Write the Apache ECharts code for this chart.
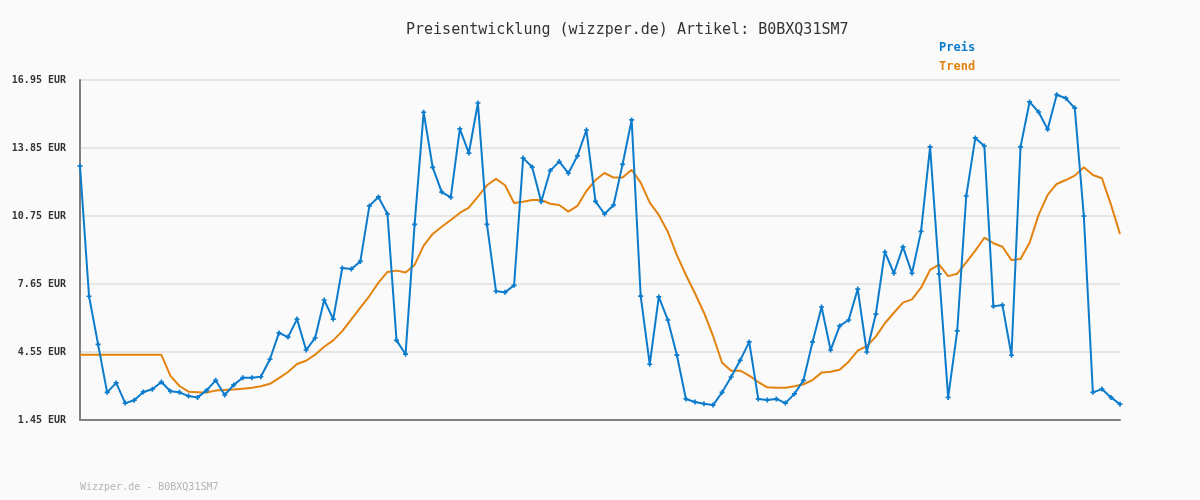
<!DOCTYPE html>
<html>
<head>
<meta charset="UTF-8">
<title>Preisentwicklung</title>
<style>
	html,body{margin:0;padding:0;background:#fafafa;}
	#chart{width:1200px;height:500px;}
</style>
</head>
<body>
<div id="chart"></div>
<script src="https://cdn.jsdelivr.net/npm/echarts@6/dist/echarts.min.js"></script>
<script>
// Preisverlauf
var preis = [13.02,7.09,4.90,2.71,3.14,2.22,2.35,2.73,2.85,3.18,
	2.76,2.71,2.54,2.48,2.80,3.26,2.59,3.05,3.38,3.38,
	3.42,4.22,5.42,5.23,6.05,4.64,5.19,6.92,6.05,8.38,
	8.33,8.68,11.21,11.62,10.84,5.08,4.45,10.37,15.48,12.97,
	11.84,11.60,14.72,13.62,15.90,10.37,7.32,7.27,7.59,13.39,
	12.98,11.40,12.82,13.23,12.70,13.49,14.67,11.42,10.84,11.25,
	13.11,15.13,7.10,3.99,7.06,6.01,4.41,2.41,2.27,2.19,
	2.13,2.71,3.41,4.17,5.01,2.41,2.36,2.41,2.22,2.64,
	3.26,5.01,6.60,4.64,5.74,6.01,7.42,4.55,6.28,9.11,
	8.14,9.34,8.14,10.05,13.90,8.11,2.48,5.51,11.66,14.31,
	13.94,6.63,6.69,4.40,13.90,15.95,15.49,14.70,16.28,16.12,
	15.67,10.75,2.71,2.86,2.48,2.17];
var trend = [4.42,4.42,4.42,4.42,4.42,4.42,4.42,4.42,4.42,4.42,
	3.46,3.00,2.74,2.72,2.70,2.79,2.82,2.84,2.88,2.92,
	2.99,3.10,3.36,3.64,4.00,4.15,4.43,4.79,5.08,5.50,
	6.04,6.57,7.10,7.71,8.20,8.26,8.17,8.52,9.40,9.93,
	10.26,10.57,10.89,11.13,11.63,12.15,12.44,12.15,11.34,11.40,
	11.48,11.48,11.31,11.25,10.95,11.21,11.89,12.39,12.71,12.50,
	12.50,12.86,12.27,11.36,10.80,10.03,8.97,8.06,7.23,6.34,
	5.28,4.06,3.70,3.70,3.47,3.18,2.94,2.92,2.92,2.99,
	3.08,3.27,3.61,3.65,3.74,4.11,4.61,4.82,5.25,5.86,
	6.34,6.80,6.95,7.48,8.29,8.53,8.01,8.12,8.64,9.17,
	9.76,9.51,9.35,8.74,8.79,9.53,10.80,11.71,12.21,12.39,
	12.59,12.97,12.62,12.47,11.27,9.93];
var yMin = 1.45, yMax = 16.95, yStep = 3.1;

var tage = [];
for (var i = 0; i < preis.length; i++) { tage.push(i + 1); }

var mono = '"DejaVu Sans Mono", "Liberation Mono", monospace';
var blau = '#0b7bcc', orange = '#e2820f';
// kleines Kreuz als Punktmarke
var kreuz = 'path://M2,0 L4,0 L4,2 L6,2 L6,4 L4,4 L4,6 L2,6 L2,4 L0,4 L0,2 L2,2 Z';

var myChart = echarts.init(document.getElementById('chart'));
var option = {
	backgroundColor: '#fafafa',
	animation: false,
	title: {
		text: 'Preisentwicklung (wizzper.de) Artikel: B0BXQ31SM7',
		left: 401,
		top: 18,
		textStyle: { fontFamily: mono, fontSize: 15, fontWeight: 'normal', color: '#333' }
	},
	legend: {
		orient: 'vertical',
		left: 934,
		top: 37,
		itemWidth: 0,
		itemHeight: 0,
		itemGap: 7,
		data: [
			{ name: 'Preis', icon: 'none', textStyle: { color: blau } },
			{ name: 'Trend', icon: 'none', textStyle: { color: orange } }
		],
		textStyle: { fontFamily: mono, fontSize: 12, fontWeight: 'bold', padding: [0, 0, 0, -5] }
	},
	graphic: [{
		type: 'text',
		left: 80,
		top: 482,
		style: { text: 'Wizzper.de - B0BXQ31SM7', fontFamily: mono, fontSize: 10, fill: '#b4b4b4' }
	}],
	grid: { left: 80, right: 80, top: 80, bottom: 80, containLabel: false },
	xAxis: {
		type: 'category',
		data: tage,
		boundaryGap: false,
		axisLine: { lineStyle: { color: '#808080', width: 2 } },
		axisTick: { show: false },
		axisLabel: { show: false },
		splitLine: { show: false }
	},
	yAxis: {
		type: 'value',
		min: yMin,
		max: yMax,
		interval: yStep,
		axisLine: { show: true, lineStyle: { color: '#808080', width: 2 } },
		axisTick: { show: false },
		axisLabel: {
			margin: 14,
			fontFamily: mono,
			fontSize: 10,
			fontWeight: 'bold',
			color: '#333',
			formatter: function (v) { return v.toFixed(2) + ' EUR'; }
		},
		splitLine: { lineStyle: { color: '#e6e6e6', width: 2 } }
	},
	series: [
		{
			name: 'Preis',
			type: 'line',
			data: preis,
			color: blau,
			lineStyle: { width: 2, color: blau },
			symbol: kreuz,
			symbolSize: 5,
			itemStyle: { color: blau },
			showAllSymbol: true,
			z: 3
		},
		{
			name: 'Trend',
			type: 'line',
			data: trend,
			color: orange,
			lineStyle: { width: 2, color: orange },
			showSymbol: false,
			symbol: 'none',
			z: 2
		}
	]
};
myChart.setOption(option);
</script>
</body>
</html>
